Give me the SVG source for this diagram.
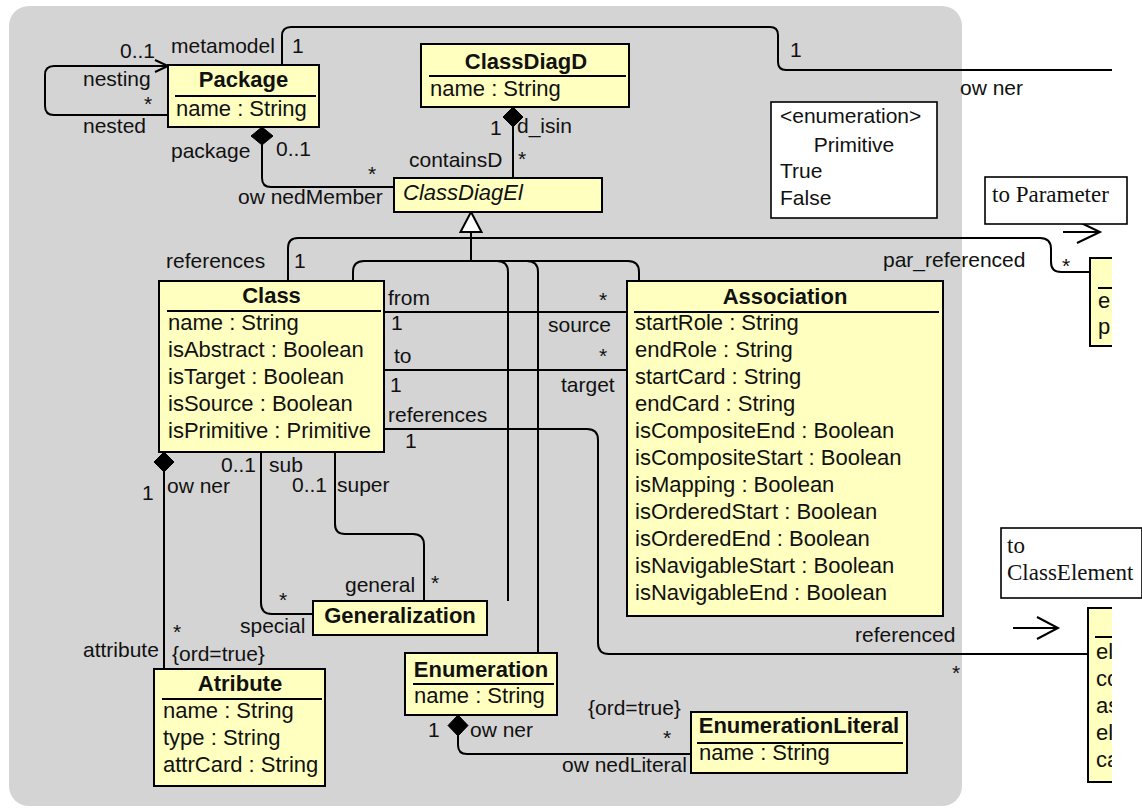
<svg xmlns="http://www.w3.org/2000/svg" width="1142" height="809" viewBox="0 0 1142 809">
<style>
text{font-family:"Liberation Sans",Arial,sans-serif;font-size:22px;fill:#111}
#labels text{font-size:21px}
.t{font-weight:bold;text-anchor:middle}
.it{font-style:italic}
.sf{font-family:"Liberation Serif","Times New Roman",serif;font-size:23px}
.pr{font-size:21px}
.box{fill:#ffffc0;stroke:#000;stroke-width:2}
.note{fill:#fff;stroke:#000;stroke-width:1.6}
.sep{stroke:#000;stroke-width:2}
.ln{fill:none;stroke:#000;stroke-width:2}
.dia{fill:#000;stroke:#000;stroke-width:1}
</style>
<defs>
<clipPath id="cut"><rect x="0" y="0" width="1112" height="809"/></clipPath>
</defs>
<rect x="0" y="0" width="1142" height="809" fill="#fff"/>
<rect x="9" y="6" width="953" height="800" rx="20" ry="20" fill="#d4d4d4"/>

<g id="connectors">
  <path class="ln" d="M168 66 H54 Q45 66 45 75 V106 Q45 115 54 115 H168"/>
  <polyline class="ln" points="155,60 168,66 155,72"/>
  <path class="ln" clip-path="url(#cut)" d="M282 65 V36 Q282 27 291 27 H770 Q778 27 778 35 V62 Q778 70 786 70 H1112"/>
  <path class="ln" d="M262 145 V178 Q262 187 271 187 H394"/>
  <polygon class="dia" points="262,127 273,136 262,145 251,136"/>
  <path class="ln" d="M513 127 V178"/>
  <polygon class="dia" points="513,107 523,117 513,127 503,117"/>
  <path class="ln" d="M471 232 V261"/>
  <path class="ln" d="M353 281 V272 Q353 261 364 261 H628 Q639 261 639 272 V281"/>
  <path class="ln" d="M497 261 Q508 261 508 272 V601"/>
  <path class="ln" d="M527 261 Q538 261 538 272 V653"/>
  <polygon points="471,212 460.5,232 481.5,232" fill="#fff" stroke="#000" stroke-width="2"/>
  <path class="ln" clip-path="url(#cut)" d="M288 281 V248 Q288 238 298 238 H1040 Q1051 238 1051 249 V262 Q1051 272 1061 272 H1090"/>
  <path class="ln" d="M384 312 H627"/>
  <path class="ln" d="M384 370 H627"/>
  <path class="ln" d="M384 429 H587 Q598 429 598 440 V643 Q598 654 609 654 H1088"/>
  <path class="ln" d="M164 472 V669"/>
  <polygon class="dia" points="164,452 174,462 164,472 154,462"/>
  <path class="ln" d="M261 452 V603 Q261 614 272 614 H313"/>
  <path class="ln" d="M335 452 V524 Q335 534 345 534 H413 Q424 534 424 545 V601"/>
  <path class="ln" d="M458 736 V745 Q458 754 467 754 H691"/>
  <polygon class="dia" points="458,715 468,725.5 458,736 448,725.5"/>
  <path class="ln" d="M1063 232 H1100"/>
  <polyline class="ln" points="1077,221 1100,232 1077,243"/>
  <path class="ln" d="M1013 628 H1058"/>
  <polyline class="ln" points="1037,617 1058,628 1037,639"/>
</g>

<g id="labels">
  <text x="171" y="53">metamodel</text>
  <text x="292" y="53">1</text>
  <text x="120" y="58">0..1</text>
  <text x="83" y="86">nesting</text>
  <text x="144" y="111">*</text>
  <text x="83" y="133">nested</text>
  <text x="171" y="158">package</text>
  <text x="276" y="156">0..1</text>
  <text x="368" y="181">*</text>
  <text x="238" y="204">ow nedMember</text>
  <text x="490" y="135">1</text>
  <text x="517" y="133">d_isin</text>
  <text x="409" y="167">containsD</text>
  <text x="518" y="166">*</text>
  <text x="790" y="57">1</text>
  <text x="960" y="95">ow ner</text>
  <text x="166" y="268">references</text>
  <text x="294" y="268">1</text>
  <text x="883" y="267">par_referenced</text>
  <text x="1062" y="273">*</text>
  <text x="388" y="305">from</text>
  <text x="391" y="330">1</text>
  <text x="599" y="307">*</text>
  <text x="548" y="332">source</text>
  <text x="394" y="363">to</text>
  <text x="390" y="392">1</text>
  <text x="599" y="363">*</text>
  <text x="561" y="392">target</text>
  <text x="388" y="422">references</text>
  <text x="405" y="448">1</text>
  <text x="855" y="642">referenced</text>
  <text x="952" y="680">*</text>
  <text x="142" y="500">1</text>
  <text x="167" y="493">ow ner</text>
  <text x="221" y="472">0..1</text>
  <text x="269" y="472">sub</text>
  <text x="292" y="492">0..1</text>
  <text x="337" y="492">super</text>
  <text x="345" y="592">general</text>
  <text x="431" y="590">*</text>
  <text x="279" y="607">*</text>
  <text x="240" y="633">special</text>
  <text x="173" y="639">*</text>
  <text x="83" y="657">attribute</text>
  <text x="172" y="661">{ord=true}</text>
  <text x="428" y="737">1</text>
  <text x="470" y="737">ow ner</text>
  <text x="588" y="715">{ord=true}</text>
  <text x="663" y="745">*</text>
  <text x="562" y="772">ow nedLiteral</text>
</g>

<g id="Package">
  <rect class="box" x="168" y="65" width="151" height="62"/>
  <text class="t" x="243.5" y="87">Package</text>
  <line class="sep" x1="175" y1="96" x2="316" y2="96"/>
  <text x="176" y="116">name : String</text>
</g>

<g id="ClassDiagD">
  <rect class="box" x="421" y="44" width="208" height="63"/>
  <text class="t" x="526" y="69">ClassDiagD</text>
  <line class="sep" x1="429" y1="76" x2="626" y2="76"/>
  <text x="430" y="96">name : String</text>
</g>

<g id="ClassDiagEl">
  <rect class="box" x="394" y="178" width="208" height="34"/>
  <text class="it" x="403" y="200">ClassDiagEl</text>
</g>

<g id="Primitive">
  <rect class="note" x="771" y="102" width="166" height="116"/>
  <text class="pr" x="780" y="123">&lt;enumeration&gt;</text>
  <text class="pr" x="854" y="152" text-anchor="middle">Primitive</text>
  <text class="pr" x="780" y="178">True</text>
  <text class="pr" x="780" y="205">False</text>
</g>

<g id="Class">
  <rect class="box" x="159" y="281" width="225" height="171"/>
  <text class="t" x="271.5" y="303">Class</text>
  <line class="sep" x1="167" y1="311" x2="381" y2="311"/>
  <text x="168" y="330">name : String</text>
  <text x="168" y="357">isAbstract : Boolean</text>
  <text x="168" y="384">isTarget : Boolean</text>
  <text x="168" y="411">isSource : Boolean</text>
  <text x="168" y="438">isPrimitive : Primitive</text>
</g>

<g id="Association">
  <rect class="box" x="627" y="281" width="316" height="335"/>
  <text class="t" x="785" y="304">Association</text>
  <line class="sep" x1="634" y1="312" x2="939" y2="312"/>
  <text x="635" y="330">startRole : String</text>
  <text x="635" y="357">endRole : String</text>
  <text x="635" y="384">startCard : String</text>
  <text x="635" y="411">endCard : String</text>
  <text x="635" y="438">isCompositeEnd : Boolean</text>
  <text x="635" y="465">isCompositeStart : Boolean</text>
  <text x="635" y="492">isMapping : Boolean</text>
  <text x="635" y="519">isOrderedStart : Boolean</text>
  <text x="635" y="546">isOrderedEnd : Boolean</text>
  <text x="635" y="573">isNavigableStart : Boolean</text>
  <text x="635" y="600">isNavigableEnd : Boolean</text>
</g>

<g id="Generalization">
  <rect class="box" x="313" y="601" width="174" height="34"/>
  <text class="t" x="400" y="623">Generalization</text>
</g>

<g id="Atribute">
  <rect class="box" x="154" y="669" width="171" height="117"/>
  <text class="t" x="240" y="691">Atribute</text>
  <line class="sep" x1="162" y1="699" x2="322" y2="699"/>
  <text x="163" y="718">name : String</text>
  <text x="163" y="745">type : String</text>
  <text x="163" y="772">attrCard : String</text>
</g>

<g id="Enumeration">
  <rect class="box" x="405" y="653" width="152" height="62"/>
  <text class="t" x="481" y="677">Enumeration</text>
  <line class="sep" x1="413" y1="684" x2="554" y2="684"/>
  <text x="414" y="703">name : String</text>
</g>

<g id="EnumerationLiteral">
  <rect class="box" x="691" y="712" width="216" height="61"/>
  <text class="t" x="799" y="733">EnumerationLiteral</text>
  <line class="sep" x1="697" y1="743" x2="903" y2="743"/>
  <text x="699" y="760">name : String</text>
</g>

<g id="ToParameter">
  <rect class="note" x="985" y="177" width="142" height="47"/>
  <text class="sf" x="992" y="202">to Parameter</text>
</g>

<g id="ToClassElement">
  <rect class="note" x="1001" y="528" width="141" height="70"/>
  <text class="sf" x="1007" y="553">to</text>
  <text class="sf" x="1007" y="580">ClassElement</text>
</g>

<g id="Parameter" clip-path="url(#cut)">
  <rect class="box" x="1090" y="258" width="60" height="88"/>
  <line class="sep" x1="1098" y1="288" x2="1112" y2="288"/>
  <text x="1098" y="308">e</text>
  <text x="1098" y="334">p</text>
</g>

<g id="ClassElement" clip-path="url(#cut)">
  <rect class="box" x="1088" y="608" width="60" height="174"/>
  <line class="sep" x1="1095" y1="637" x2="1112" y2="637"/>
  <text x="1096" y="659">el</text>
  <text x="1096" y="686">co</text>
  <text x="1096" y="713">as</text>
  <text x="1096" y="740">el</text>
  <text x="1096" y="767">ca</text>
</g>
</svg>
